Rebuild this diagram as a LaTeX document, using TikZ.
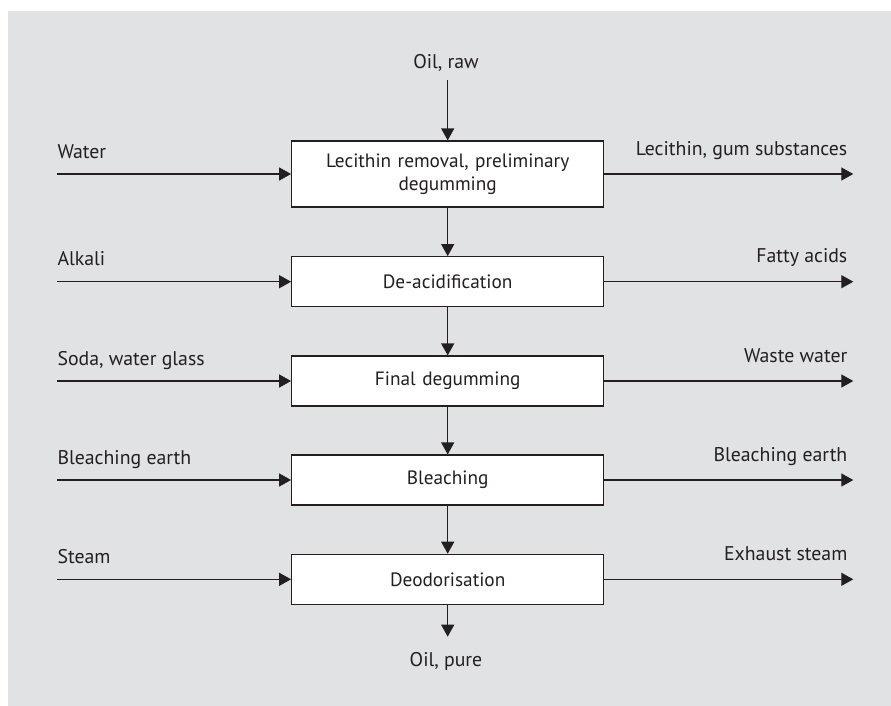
\documentclass[tikz,border=0pt]{standalone}
\usepackage{fontspec}
\setmainfont{PT Sans}
\usetikzlibrary{arrows.meta}
\definecolor{bg}{HTML}{E1E2E4}
\definecolor{ink}{HTML}{231F20}
\begin{document}
\begin{tikzpicture}[x=1pt,y=-1pt,
  proc/.style={draw=ink, line width=1.2pt, fill=white, minimum width=312pt, text width=300pt, align=center, font=\fontsize{19.3}{23.3}\selectfont, text=ink, inner sep=0pt},
  flow/.style={draw=ink, line width=1.3pt, -{Triangle[length=12pt,width=13pt]}},
  lbl/.style={font=\fontsize{19.8}{23}\selectfont, text=ink, inner sep=0pt}]
\useasboundingbox (0,0) rectangle (891,706);
\fill[bg] (8,11) rectangle (891,706);

\node[proc, minimum height=66pt] (b1) at (447.7,174) {Lecithin removal, preliminary\\degumming};
\node[proc, minimum height=50pt] (b2) at (447.7,281.7) {De-acidification};
\node[proc, minimum height=50pt] (b3) at (447.7,381) {Final degumming};
\node[proc, minimum height=50pt] (b4) at (447.7,480) {Bleaching};
\node[proc, minimum height=50pt] (b5) at (447.7,579.3) {Deodorisation};

\coordinate (top) at (447.7,80);
\coordinate (bot) at (447.7,636.7);
\node[lbl, anchor=base] (oilraw) at (446,68.3) {Oil, raw};
\node[lbl, anchor=base] (oilpure) at (446,666) {Oil, pure};
\draw[flow] (top) -- (b1.north);
\draw[flow] (b1) -- (b2);
\draw[flow] (b2) -- (b3);
\draw[flow] (b3) -- (b4);
\draw[flow] (b4) -- (b5);
\draw[flow] (b5.south) -- (bot);

\foreach \i/\y/\lt/\rt in {1/174/Water/{Lecithin, gum substances},
                          2/281.7/Alkali/Fatty acids,
                          3/381/{Soda, water glass}/Waste water,
                          4/480/Bleaching earth/Bleaching earth,
                          5/579.3/Steam/Exhaust steam}{
  \coordinate (w\i) at (57.3,\y);
  \coordinate (e\i) at (853.3,\y);
  \node[lbl, anchor=base west] (lin\i) at (57.3,\y-16) {\lt};
  \node[lbl, anchor=base east] (lout\i) at (847.5,\y-19) {\rt};
  \draw[flow] (w\i) -- (b\i.west);
  \draw[flow] (b\i.east) -- (e\i);
}
\end{tikzpicture}
\end{document}
